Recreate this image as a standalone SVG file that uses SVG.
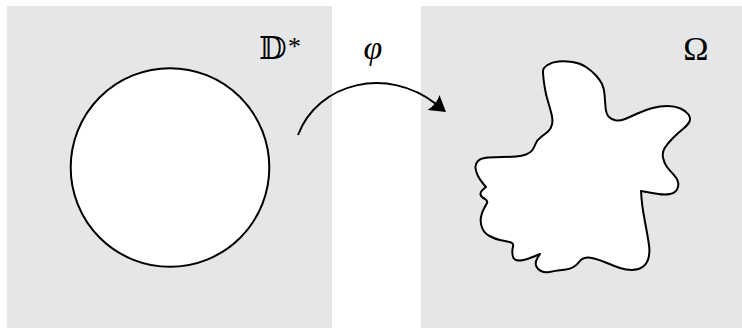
<svg xmlns="http://www.w3.org/2000/svg" width="742" height="328" viewBox="0 0 742 328">
  <style>
    .panel { fill: #e5e6e8; }
    .shape { fill: #ffffff; stroke: #000000; stroke-width: 2; stroke-linejoin: round; }
    .conn { fill: none; stroke: #000000; stroke-width: 2; }
    .lbl { fill: #000000; font-family: "Liberation Serif", "DejaVu Serif", serif; }
  </style>

  <!-- domain: exterior of the unit disk -->
  <g id="disk-domain">
    <rect class="panel" x="7" y="6" width="325" height="322"/>
    <circle class="shape" cx="170" cy="167.5" r="99.3"/>
    <text class="lbl" x="259" y="59" font-family="'DejaVu Sans', 'DejaVu Serif', serif" font-size="32">𝔻</text>
    <text class="lbl" x="288" y="55" font-size="26">*</text>
  </g>

  <!-- target domain: exterior of an irregular region -->
  <g id="omega-domain">
    <rect class="panel" x="421" y="6" width="321" height="322"/>
    <path class="shape" d="M543,71
      Q543,68 547.5,65 Q552,62 558.5,61.5 Q565,61 572.5,62 Q580,63 586,67 Q592,71 596,75.5
      Q600,80 602,84 Q604,88 604.5,94 Q605,100 605.5,107 Q606,114 609,117 Q612,120 616,120.5
      Q620,121 625,119 Q630,117 637.5,113.5 Q645,110 652.5,108 Q660,106 667.5,106 Q675,106 680.5,108.5
      Q686,111 688.5,114.5 Q691,118 689.5,121.5 Q688,125 683,129 Q678,133 673,138 Q668,143 665,147.5
      Q662,152 663,157.5 Q664,163 667,167 Q670,171 673.5,174.5 Q677,178 678,182 Q679,186 677,189.5
      Q675,193 670,194 Q665,195 658.5,194 Q652,193 646.5,192
      L641,191 L641.5,198
      Q642,205 643.5,213.5 Q645,222 646.5,230 Q648,238 649,245 Q650,252 648.5,258 Q647,264 642.5,267
      Q638,270 632,270 Q626,270 620,268 Q614,266 607,263 Q600,260 594,258.5 Q588,257 584.5,258
      Q581,259 579,262 Q577,265 573.5,267 Q570,269 566,269.5 Q562,270 558,270.5 Q554,271 549.5,272
      Q545,273 541,271 Q537,269 536,265.5 Q535,262 537.5,258
      L540,254 L534,256.5
      Q528,259 523.5,260 Q519,261 516,260 Q513,259 512.5,254.5 Q512,250 513,246.5 Q514,243 509.5,242
      Q505,241 500,240 Q495,239 489.5,236 Q484,233 482,227.5 Q480,222 481,217 Q482,212 484,208.5
      Q486,205 487,203 Q488,201 485,199 Q481,197 480.5,194.5 Q480,192 483,189.5
      L486,187 L483,183.5
      Q480,180 478,176 Q476,172 475.5,168 Q475,164 478,161 Q481,158 488,157.5 Q495,157 502.5,157
      Q510,157 516,156.5 Q522,156 526,154.5 Q530,153 532,150.5 Q534,148 535.5,144 Q537,140 541,137
      Q545,134 548,131.5 Q551,129 552,124.5 Q553,120 551.5,114 Q550,108 548,101.5 Q546,95 545,89
      Q544,83 543.5,78.5 Q543,74 543,71 Z"/>
    <text class="lbl" x="696" y="60" font-size="34" text-anchor="middle">Ω</text>
  </g>

  <!-- the map between the two domains -->
  <g id="connectors">
    <path class="conn" d="M298,135 C318,82 388,66 436,104"/>
    <path d="M446,112 L439.5,95 Q437,104 427.5,110 Z" fill="#000000"/>
    <text class="lbl" x="373" y="59" font-size="34" font-style="italic" text-anchor="middle">φ</text>
  </g>
</svg>
